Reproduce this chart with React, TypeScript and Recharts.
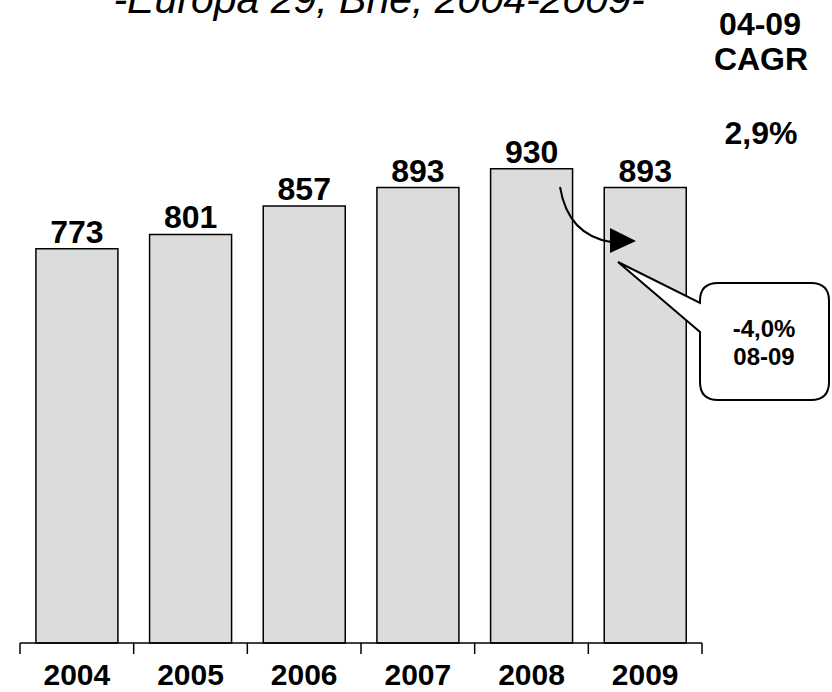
import { Bar, BarChart, LabelList, XAxis, YAxis } from "recharts";

const years = ["2004", "2005", "2006", "2007", "2008", "2009"];
const volumes = [773, 801, 857, 893, 930, 893];
const title = "-Europa 29, Bne, 2004-2009-";
const cagrHeader = ["04-09", "CAGR"];
const cagrValue = "2,9%";
const dropNote = ["-4,0%", "08-09"];

const data = years.map((year, i) => ({ year, value: volumes[i] }));

const W = 832;
const H = 692;
const margin = { top: 133, right: 130, bottom: 0, left: 20 };
const xAxisHeight = 49;
const axisY = H - margin.bottom - xAxisHeight;
const band = (W - margin.left - margin.right) / years.length;
const font = '"Liberation Sans", Arial, sans-serif';

function YearTick(props: any) {
  const { x, payload, index } = props;
  const left = x - band / 2;
  return (
    <g>
      <line x1={left} y1={axisY} x2={left} y2={axisY + 11} stroke="#000" strokeWidth={1.5} />
      {index === years.length - 1 && (
        <line x1={left + band} y1={axisY} x2={left + band} y2={axisY + 11} stroke="#000" strokeWidth={1.5} />
      )}
      <text x={x} y={axisY + 42} textAnchor="middle" fontFamily={font} fontWeight="bold" fontSize={30} fill="#000">
        {payload.value}
      </text>
    </g>
  );
}

export default function App() {
  return (
    <div style={{ position: "absolute", left: 0, top: 0, width: W, height: H, background: "#fff" }}>
      <BarChart width={W} height={H} data={data} margin={margin} barCategoryGap="14%">
        <YAxis hide domain={[0, 1000]} />
        <XAxis
          dataKey="year"
          height={xAxisHeight}
          interval={0}
          tickLine={false}
          axisLine={{ stroke: "#000", strokeWidth: 1.5 }}
          tick={<YearTick />}
        />
        <Bar dataKey="value" fill="#dcdcdc" stroke="#000" strokeWidth={1.5} isAnimationActive={false}>
          <LabelList
            dataKey="value"
            position="top"
            offset={6}
            fill="#000"
            fontFamily={font}
            fontWeight="bold"
            fontSize={32}
          />
        </Bar>
      </BarChart>
      <svg width={W} height={H} style={{ position: "absolute", left: 0, top: 0, pointerEvents: "none" }}>
        <text x={379} y={13} textAnchor="middle" fontFamily={font} fontStyle="italic" fontSize={41} fill="#000">
          {title}
        </text>
        <g fontFamily={font} fontWeight="bold" fontSize={32} fill="#000" textAnchor="middle">
          <text x={760} y={35}>{cagrHeader[0]}</text>
          <text x={761} y={70}>{cagrHeader[1]}</text>
          <text x={761} y={144}>{cagrValue}</text>
        </g>
        {/* arrow from 2008 to 2009 */}
        <path d="M 560 187 Q 568 235 611 242" fill="none" stroke="#000" strokeWidth={2} />
        <polygon points="610,228 610,253 636,241" fill="#000" />
        {/* callout */}
        <path
          d="M 718 283 H 811 Q 829 283 829 301 V 382 Q 829 400 811 400 H 718 Q 700 400 700 382 V 332 L 618 262 L 700 303 V 301 Q 700 283 718 283 Z"
          fill="#fff"
          stroke="#000"
          strokeWidth={2}
        />
        <g fontFamily={font} fontWeight="bold" fontSize={24} fill="#000" textAnchor="middle">
          <text x={764} y={337}>{dropNote[0]}</text>
          <text x={764} y={365}>{dropNote[1]}</text>
        </g>
      </svg>
    </div>
  );
}
